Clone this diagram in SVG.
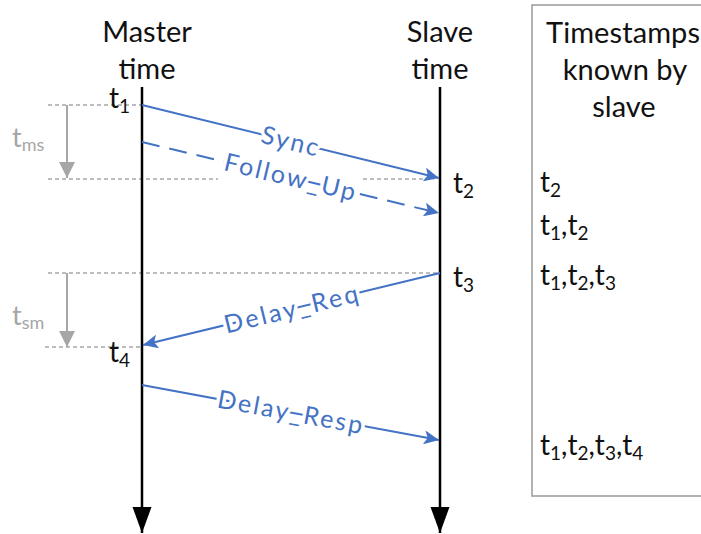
<svg xmlns="http://www.w3.org/2000/svg" width="701" height="534" viewBox="0 0 701 534">
<style>
text{font-family:Lato,"Open Sans","Liberation Sans",sans-serif}
.title{font-size:29px;fill:#111}
.ts{font-size:28px;fill:#111}
.sub{font-size:19px}
.gray{fill:#A6A6A6;font-size:27px}
.gsub{font-size:18px}
.lbl{font-size:25px;fill:#4472C4;stroke:#fff;stroke-width:7;paint-order:stroke;stroke-linejoin:round}
.gd{stroke:#A6A6A6;stroke-width:1.5;stroke-dasharray:4 3;fill:none}
.ga{stroke:#A6A6A6;stroke-width:2;fill:none}
.msg{stroke:#4472C4;stroke-width:2;fill:none}
.tl{stroke:#000;stroke-width:2.5;fill:none}
</style>
<defs>
<marker id="ab" markerUnits="userSpaceOnUse" markerWidth="16" markerHeight="14" refX="15" refY="7" orient="auto"><path d="M0,0 L15,7 L0,14 L3.5,7 Z" fill="#4472C4"/></marker>
<marker id="ag" markerUnits="userSpaceOnUse" markerWidth="16" markerHeight="18" refX="16" refY="8" orient="auto"><path d="M0,0 L16,8 L0,16 Z" fill="#A6A6A6"/></marker>
<marker id="ak" markerUnits="userSpaceOnUse" markerWidth="27" markerHeight="20" refX="26" refY="9.5" orient="auto"><path d="M0,0 L26,9.5 L0,19 Z" fill="#000"/></marker>
</defs>

<g id="timestamps-box">
<rect x="532" y="5" width="190" height="491" fill="#fff" stroke="#999" stroke-width="1.5"/>
<text class="title" x="623" y="43" text-anchor="middle" textLength="154">Timestamps</text>
<text class="title" x="625" y="80" text-anchor="middle">known by</text>
<text class="title" x="624" y="117" text-anchor="middle">slave</text>
<text class="ts" x="540" y="192">t<tspan class="sub" dy="5">2</tspan></text>
<text class="ts" x="540" y="235">t<tspan class="sub" dy="5">1</tspan><tspan dy="-5">,t</tspan><tspan class="sub" dy="5">2</tspan></text>
<text class="ts" x="540" y="285">t<tspan class="sub" dy="5">1</tspan><tspan dy="-5">,t</tspan><tspan class="sub" dy="5">2</tspan><tspan dy="-5">,t</tspan><tspan class="sub" dy="5">3</tspan></text>
<text class="ts" x="540" y="455">t<tspan class="sub" dy="5">1</tspan><tspan dy="-5">,t</tspan><tspan class="sub" dy="5">2</tspan><tspan dy="-5">,t</tspan><tspan class="sub" dy="5">3</tspan><tspan dy="-5">,t</tspan><tspan class="sub" dy="5">4</tspan></text>
</g>

<g id="guides">
<line class="gd" x1="48" y1="105" x2="142" y2="105"/>
<line class="gd" x1="48" y1="179" x2="218" y2="179"/>
<line class="gd" x1="363" y1="179" x2="434" y2="179"/>
<line class="gd" x1="48" y1="273" x2="440" y2="273"/>
<line class="gd" x1="45" y1="347" x2="142" y2="347"/>
<line class="ga" x1="67" y1="105" x2="67" y2="178" marker-end="url(#ag)"/>
<line class="ga" x1="67" y1="273" x2="67" y2="347" marker-end="url(#ag)"/>
<text class="gray" x="12" y="147">t<tspan class="gsub" dy="4">ms</tspan></text>
<text class="gray" x="12" y="325">t<tspan class="gsub" dy="4">sm</tspan></text>
</g>

<g id="master">
<text class="title" x="147" y="42" text-anchor="middle">Master</text>
<text class="title" x="147" y="79" text-anchor="middle">time</text>
<line class="tl" x1="142" y1="87" x2="142" y2="533" marker-end="url(#ak)"/>
<text class="ts" x="109" y="108">t<tspan class="sub" dy="5">1</tspan></text>
<text class="ts" x="109" y="362">t<tspan class="sub" dy="5">4</tspan></text>
</g>

<g id="slave">
<text class="title" x="440" y="42" text-anchor="middle">Slave</text>
<text class="title" x="440" y="79" text-anchor="middle">time</text>
<line class="tl" x1="440" y1="87" x2="440" y2="533" marker-end="url(#ak)"/>
<text class="ts" x="453" y="193">t<tspan class="sub" dy="5">2</tspan></text>
<text class="ts" x="453" y="287">t<tspan class="sub" dy="5">3</tspan></text>
</g>

<g id="connectors">
<line class="msg" x1="142" y1="105" x2="439" y2="178" marker-end="url(#ab)"/>
<line class="msg" x1="142" y1="142" x2="439" y2="213" stroke-dasharray="18 10" marker-end="url(#ab)"/>
<line class="msg" x1="440" y1="273" x2="143" y2="345" marker-end="url(#ab)"/>
<line class="msg" x1="142" y1="385" x2="439" y2="440" marker-end="url(#ab)"/>
<text class="lbl" transform="translate(290,141) rotate(13.8)" text-anchor="middle" dy="0.35em" textLength="58">Sync</text>
<text class="lbl" transform="translate(290,177) rotate(13.4)" text-anchor="middle" dy="0.35em" textLength="134">Follow_Up</text>
<text class="lbl" transform="translate(291,309) rotate(-13.6)" text-anchor="middle" dy="0.35em" textLength="137">Delay_Req</text>
<text class="lbl" transform="translate(290,412) rotate(10.5)" text-anchor="middle" dy="0.35em" textLength="147">Delay_Resp</text>
</g>
</svg>
